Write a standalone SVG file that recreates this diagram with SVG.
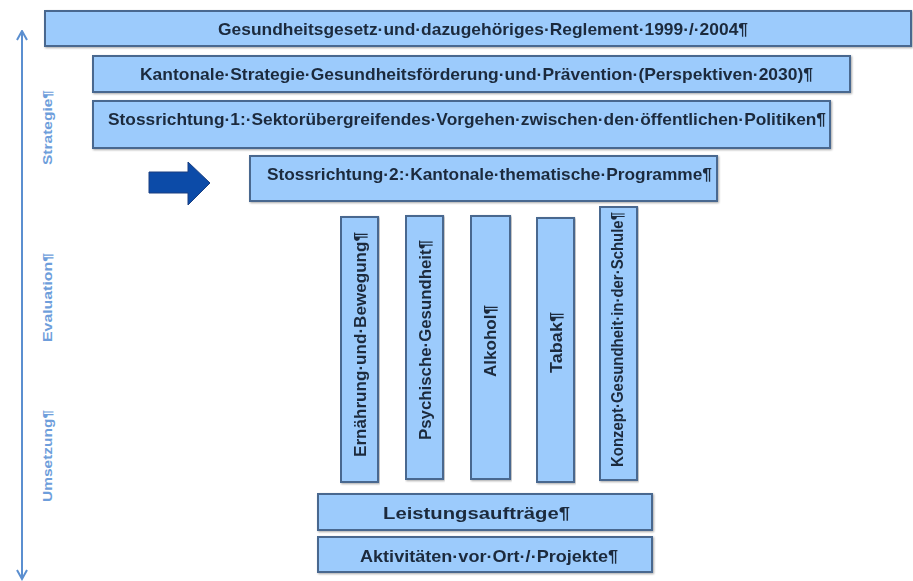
<svg xmlns="http://www.w3.org/2000/svg" width="913" height="581" viewBox="0 0 913 581">
<defs>
<style>
.box{fill:#9ccbfc;stroke:#48678f;stroke-width:2}
.t{font-family:"Liberation Sans",Arial,sans-serif;font-weight:bold;font-size:17px;fill:#1c2a3c}
.ax{font-family:"Liberation Sans",Arial,sans-serif;font-weight:bold;font-size:13.5px;fill:#6e9edb}
</style>
<marker id="ah" viewBox="0 0 12 12" refX="10.5" refY="6" markerWidth="12" markerHeight="12" markerUnits="userSpaceOnUse" orient="auto-start-reverse">
<path d="M1.5,1 L10.5,6 L1.5,11" fill="none" stroke="#5b8fd0" stroke-width="2"/>
</marker>
<filter id="sh" x="-5%" y="-20%" width="110%" height="140%">
<feGaussianBlur in="SourceAlpha" stdDeviation="1"/>
<feOffset dx="1" dy="1"/>
<feComponentTransfer><feFuncA type="linear" slope="0.35"/></feComponentTransfer>
<feMerge><feMergeNode/><feMergeNode in="SourceGraphic"/></feMerge>
</filter>
</defs>
<rect width="913" height="581" fill="#ffffff"/>
<g id="connectors">
<line x1="22" y1="31" x2="22" y2="579" stroke="#5b8fd0" stroke-width="2" marker-start="url(#ah)" marker-end="url(#ah)"/>
<path d="M149,172 L188,172 L188,162 L210,183 L188,205 L188,193 L149,193 Z" fill="#0c4ba8" stroke="#1a3f80" stroke-width="1"/>
</g>
<g id="axis-labels">
<text class="ax" transform="translate(52,165) rotate(-90)" textLength="75" lengthAdjust="spacingAndGlyphs">Strategie¶</text>
<text class="ax" transform="translate(52,342) rotate(-90)" textLength="89" lengthAdjust="spacingAndGlyphs">Evaluation¶</text>
<text class="ax" transform="translate(52,502) rotate(-90)" textLength="92" lengthAdjust="spacingAndGlyphs">Umsetzung¶</text>
</g>
<g id="n1" filter="url(#sh)">
<rect class="box" x="45" y="11" width="866" height="35"/>
<text class="t" x="218" y="35" textLength="530" lengthAdjust="spacingAndGlyphs">Gesundheitsgesetz·und·dazugehöriges·Reglement·1999·/·2004¶</text>
</g>
<g id="n2" filter="url(#sh)">
<rect class="box" x="93" y="56" width="757" height="36"/>
<text class="t" x="140" y="80" textLength="673" lengthAdjust="spacingAndGlyphs">Kantonale·Strategie·Gesundheitsförderung·und·Prävention·(Perspektiven·2030)¶</text>
</g>
<g id="n3" filter="url(#sh)">
<rect class="box" x="93" y="101" width="737" height="47"/>
<text class="t" x="108" y="125" textLength="718" lengthAdjust="spacingAndGlyphs">Stossrichtung·1:·Sektorübergreifendes·Vorgehen·zwischen·den·öffentlichen·Politiken¶</text>
</g>
<g id="n4" filter="url(#sh)">
<rect class="box" x="250" y="156" width="467" height="45"/>
<text class="t" x="267" y="180" textLength="445" lengthAdjust="spacingAndGlyphs">Stossrichtung·2:·Kantonale·thematische·Programme¶</text>
</g>
<g id="p1" filter="url(#sh)">
<rect class="box" x="341" y="217" width="37" height="265"/>
<text class="t" transform="translate(366,457) rotate(-90)" textLength="225" lengthAdjust="spacingAndGlyphs">Ernährung·und·Bewegung¶</text>
</g>
<g id="p2" filter="url(#sh)">
<rect class="box" x="406" y="216" width="37" height="263"/>
<text class="t" transform="translate(431,440) rotate(-90)" textLength="200" lengthAdjust="spacingAndGlyphs">Psychische·Gesundheit¶</text>
</g>
<g id="p3" filter="url(#sh)">
<rect class="box" x="471" y="216" width="39" height="263"/>
<text class="t" transform="translate(496,377) rotate(-90)" textLength="72" lengthAdjust="spacingAndGlyphs">Alkohol¶</text>
</g>
<g id="p4" filter="url(#sh)">
<rect class="box" x="537" y="218" width="37" height="264"/>
<text class="t" transform="translate(562,373) rotate(-90)" textLength="61" lengthAdjust="spacingAndGlyphs">Tabak¶</text>
</g>
<g id="p5" filter="url(#sh)">
<rect class="box" x="600" y="207" width="37" height="273"/>
<text class="t" transform="translate(623,467) rotate(-90)" textLength="255" lengthAdjust="spacingAndGlyphs">Konzept·Gesundheit·in·der·Schule¶</text>
</g>
<g id="n5" filter="url(#sh)">
<rect class="box" x="318" y="494" width="334" height="36"/>
<text class="t" x="383" y="519" textLength="187" lengthAdjust="spacingAndGlyphs">Leistungsaufträge¶</text>
</g>
<g id="n6" filter="url(#sh)">
<rect class="box" x="318" y="537" width="334" height="35"/>
<text class="t" x="360" y="562" textLength="258" lengthAdjust="spacingAndGlyphs">Aktivitäten·vor·Ort·/·Projekte¶</text>
</g>
</svg>
